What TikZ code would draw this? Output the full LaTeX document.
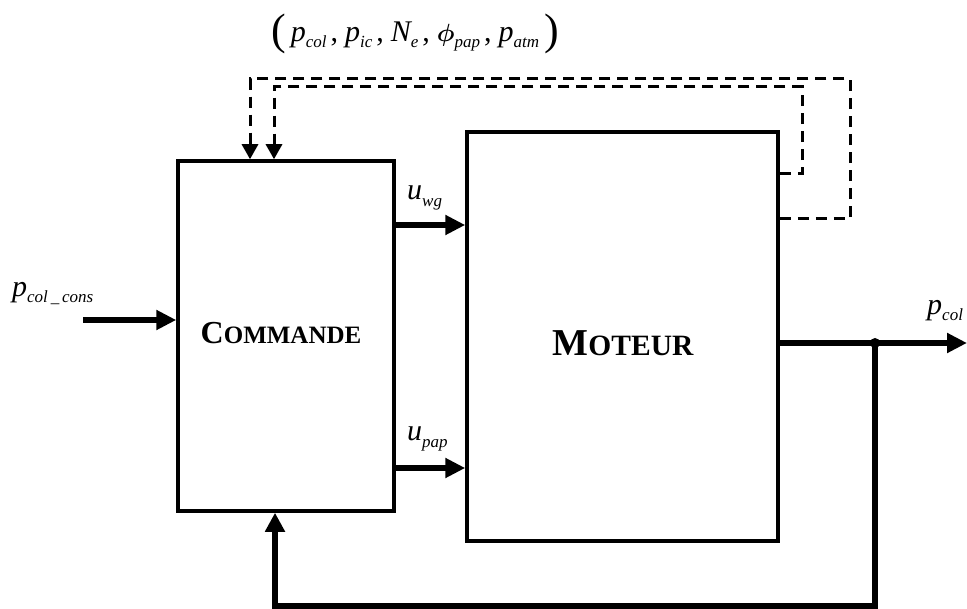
\documentclass[tikz,border=0pt]{standalone}
\usepackage{fontspec}
\setmainfont{Liberation Serif}
\usetikzlibrary{arrows.meta,calc}
\newcommand\lbl[5]{{\fontsize{#3}{#3}\selectfont\itshape #1}\raisebox{-#5}{\fontsize{#4}{#4}\selectfont\itshape #2}}
\newcommand\tcm{\hspace{4pt}{\fontsize{30}{30}\selectfont,}\hspace{7pt}}
\tikzset{
  x=1pt, y=-1pt,
  box/.style={draw, line width=3.5pt, inner sep=0pt},
  sig/.style={line width=6pt, -{Triangle[length=20pt,width=19pt]}},
  fb/.style={line width=5.5pt},
  dsh/.style={line width=3pt, dash pattern=on 11pt off 7pt, -{Triangle[length=15pt,width=16pt]}},
  txt/.style={inner sep=0pt, anchor=base west},
}
\begin{document}
\begin{tikzpicture}
\useasboundingbox (0,0) rectangle (967,609);
% blocks
\node[box, minimum width=216pt, minimum height=350pt] (cmd) at (286,336) {};
\node[box, minimum width=311pt, minimum height=409pt] (mot) at (622.5,336.5) {};
\node[inner sep=0pt] (cmdtxt) at (281,333) {\bfseries\fontsize{32}{32}\selectfont C\fontsize{25}{25}\selectfont OMMANDE};
\node[inner sep=0pt] (mottxt) at (623,343) {\bfseries\fontsize{38}{38}\selectfont M\fontsize{29.5}{29.5}\selectfont OTEUR};
% input
\coordinate (in) at (83,320);
\draw[sig] (in) -- (in -| cmd.west);
\node[txt] (inlbl) at (12,297) {\lbl{p}{col\,\_\,cons}{30pt}{17pt}{6pt}};
% control signals
\coordinate (uwg) at ([yshift=111pt]cmd.east);
\draw[sig] (uwg) -- (uwg -| mot.west);
\node[txt] (uwglbl) at (407,200) {\lbl{u}{wg}{30pt}{17pt}{7pt}};
\coordinate (upap) at ([yshift=-132pt]cmd.east);
\draw[sig] (upap) -- (upap -| mot.west);
\node[txt] (upaplbl) at (407,441) {\lbl{u}{pap}{30pt}{17pt}{7pt}};
% output
\coordinate (oe) at ([yshift=-6.5pt]mot.east);
\coordinate (tip) at (967,343);
\node[circle, fill, inner sep=0pt, minimum size=10pt] (dot) at (875,343) {};
\draw[sig] (oe) -- (tip);
\node[txt] (outlbl) at (927,315) {\lbl{p}{col}{30pt}{17pt}{6pt}};
% feedback
\coordinate (fbb) at (875,606);
\draw[fb, -{Triangle[length=19pt,width=19pt]}] (dot.center) -- (fbb) -| ([xshift=-11pt]cmd.south);
% measured outputs (dashed)
\draw[dsh] ([yshift=117.5pt]mot.east) -| (850,79) -| ([xshift=-36pt]cmd.north);
\draw[dsh] ([yshift=162.5pt]mot.east) -| (802,87) -| ([xshift=-12pt]cmd.north);
\node[txt] (toplbl) at (271,42) {\raisebox{-3pt}{\fontsize{44}{44}\selectfont(}\hspace{5pt}\lbl{p}{col}{30pt}{17pt}{6pt}\tcm\lbl{p}{ic}{30pt}{17pt}{6pt}\tcm\lbl{N}{e}{30pt}{17pt}{6pt}\tcm{\fontsize{40}{40}\selectfont\boldmath$\phi$}\raisebox{-6pt}{\fontsize{17}{17}\selectfont\itshape pap}\tcm\lbl{p}{atm}{30pt}{17pt}{6pt}\hspace{5pt}\raisebox{-3pt}{\fontsize{44}{44}\selectfont)}};
\end{tikzpicture}
\end{document}
